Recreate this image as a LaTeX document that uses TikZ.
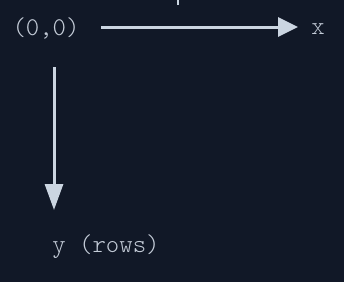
\documentclass[tikz,border=0pt]{standalone}
\usepackage{fontspec}
\newfontfamily\lmlight{Latin Modern Mono Light}
\usepackage{tikz}
\usetikzlibrary{arrows.meta}
\definecolor{cBg}{HTML}{111827}
\definecolor{cAxis}{HTML}{CBD5E1}
\definecolor{cLabel}{HTML}{C4CCD8}
\tikzset{
  lbl/.style  ={text=cLabel, inner sep=0pt, font=\lmlight\fontsize{25.5}{30}\selectfont},
  xaxis/.style={-{Triangle[length=20pt,width=19pt]}, line width=3pt, draw=cAxis},
  yaxis/.style={-{Triangle[length=26pt,width=18pt]}, line width=3pt, draw=cAxis},
}

\begin{document}
\begin{tikzpicture}[x=1pt, y=-1pt]
        \fill[cBg] (0,0) rectangle (344,282);
        \useasboundingbox (0,0) rectangle (344,282);
        \node[lbl] (origin) at (46,28.5){(0,0)};
        \node[lbl] (xlab) at (318,29.5){x};
        \node[lbl] (ylab) at (106,247){y (rows)};
        \coordinate (xs) at (101,27); \coordinate (xe) at (298,27);
        \coordinate (ys) at (54,67);  \coordinate (ye) at (54,210);
        \draw[xaxis] (xs)--(xe);
        \draw[yaxis] (ys)--(ye);
        \coordinate (t1) at (178,0); \coordinate (t2) at (178,5);
        \draw[cAxis, line width=2pt] (t1)--(t2);
      \end{tikzpicture}
\end{document}
